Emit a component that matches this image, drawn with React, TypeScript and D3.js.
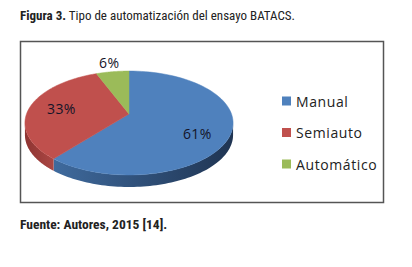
import React from "react";
import * as d3 from "d3";

const categories = ["Manual", "Semiauto", "Automático"];
const values = [61, 33, 6];
const pctLabels = ["61%", "33%", "6%"];
const colors = ["#4f81bd", "#c0504d", "#9bbb59"];
const sideDark = ["#1f3452", "#8e3432", "#6f8a3a"];
const sideLight = ["#3f6a9d", "#ab4744", "#88a64c"];

const W = 412;
const H = 267;

// pie geometry (perspective projection of a disk)
const XC = 129;
const YC = 114;
const KX = 102.5;
const KY = 50.4;
const P = 0.173;
const DEPTH = 12;

function proj(theta: number, f = 1): [number, number] {
  const X = Math.sin(theta) * f;
  const d = Math.cos(theta) * f;
  const s = 1 + P * d;
  return [XC + (KX * X) / s, YC - (KY * d) / s];
}

function rimPts(a0: number, a1: number, n = 80): [number, number][] {
  const pts: [number, number][] = [];
  for (let i = 0; i <= n; i++) {
    pts.push(proj(a0 + ((a1 - a0) * i) / n));
  }
  return pts;
}

export default function App() {
  const pie = d3.pie<number>().sort(null).startAngle(0).endAngle(2 * Math.PI);
  const arcs = pie(values);
  const line = d3.line();
  const thR = Math.acos(-P);
  const thL = 2 * Math.PI - thR;

  const sides = arcs
    .map((a, i) => {
      const s = Math.max(a.startAngle, thR);
      const e = Math.min(a.endAngle, thL);
      if (e <= s) return null;
      const top = rimPts(s, e);
      const bottom = top
        .slice()
        .reverse()
        .map(([x, y]) => [x, y + DEPTH] as [number, number]);
      const xs = top.map((p) => p[0]);
      return {
        i,
        d: line([...top, ...bottom]) + "Z",
        x0: d3.min(xs)!,
        x1: d3.max(xs)!,
      };
    })
    .filter(Boolean) as { i: number; d: string; x0: number; x1: number }[];

  const apex: [number, number] = [XC, YC];
  const faces = arcs.map((a, i) => {
    const pts = rimPts(a.startAngle, a.endAngle);
    return { i, d: line([apex, ...pts]) + "Z" };
  });

  const labels = arcs.map((a, i) => {
    const mid = (a.startAngle + a.endAngle) / 2;
    const frac = a.endAngle - a.startAngle < 0.1 * 2 * Math.PI ? 1.25 : 0.68;
    const [x, y] = proj(mid, frac);
    return { i, x, y: y + (Math.cos(mid) < 0 ? 7 : 0) };
  });

  const legendY = d3.scalePoint<string>().domain(categories).range([101, 164]);

  return (
    <svg
      width={W}
      height={H}
      style={{ position: "absolute", left: 0, top: 0, background: "#fff" }}
    >
      <defs>
        {sides.map((s) => (
          <linearGradient
            key={s.i}
            id={`side${s.i}`}
            gradientUnits="userSpaceOnUse"
            x1={s.x0}
            x2={s.x1}
            y1={0}
            y2={0}
          >
            <stop offset="0" stopColor={s.i === 0 ? sideLight[s.i] : sideDark[s.i]} />
            <stop offset="1" stopColor={s.i === 0 ? sideDark[s.i] : sideLight[s.i]} />
          </linearGradient>
        ))}
      </defs>
      <text
        x={20}
        y={20}
        fontFamily="'Liberation Sans Narrow', 'Roboto Condensed', Roboto, sans-serif"
        fontSize={13}
        fill="#222"
      >
        <tspan fontWeight="bold">Figura 3.</tspan>
        <tspan> Tipo de automatización del ensayo BATACS.</tspan>
      </text>
      <rect
        x={20.5}
        y={41.5}
        width={363}
        height={161}
        fill="#fff"
        stroke="#555"
        strokeWidth={1.5}
      />
      {sides.map((s) => (
        <path key={s.i} d={s.d} fill={`url(#side${s.i})`} />
      ))}
      {faces.map((f) => (
        <path key={f.i} d={f.d} fill={colors[f.i]} stroke={colors[f.i]} strokeWidth={0.5} />
      ))}
      {labels.map((l) => (
        <text
          key={l.i}
          x={l.x}
          y={l.y}
          textAnchor="middle"
          dominantBaseline="central"
          fontFamily="'Open Sans', sans-serif"
          fontSize={14}
          letterSpacing={0.4}
          fill="#141428"
        >
          {pctLabels[l.i]}
        </text>
      ))}
      {categories.map((c, i) => (
        <g key={c} transform={`translate(282,${legendY(c)})`}>
          <rect x={0} y={-4.5} width={9} height={9} fill={colors[i]} />
          <text
            x={14}
            y={0}
            dominantBaseline="central"
            fontFamily="'Open Sans', sans-serif"
            fontSize={14}
            letterSpacing={0.6}
            fill="#222"
          >
            {c}
          </text>
        </g>
      ))}
      <text
        x={20}
        y={229}
        fontFamily="'Liberation Sans Narrow', 'Roboto Condensed', Roboto, sans-serif"
        fontSize={13.5}
        fontWeight="bold"
        fill="#222"
      >
        Fuente: Autores, 2015 [14].
      </text>
    </svg>
  );
}
